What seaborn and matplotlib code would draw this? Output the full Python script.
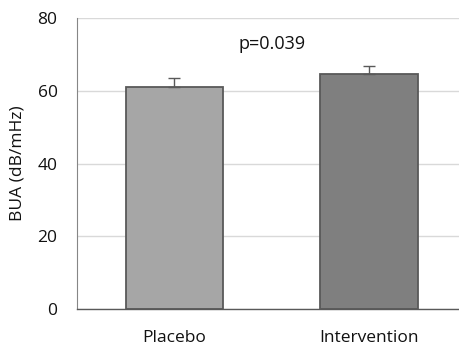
import matplotlib
matplotlib.use("Agg")
import matplotlib.pyplot as plt
import seaborn as sns
import pandas as pd

groups = ["Placebo", "Intervention"]
means = [61.1, 64.5]
se_upper = [2.3, 2.3]
bar_colors = ["#A6A6A6", "#7F7F7F"]
yticks = [0, 20, 40, 60, 80]
p_text = "p=0.039"

sns.set_theme(style="white")
plt.rcParams['font.family'] = ['Open Sans', 'DejaVu Sans']

df = pd.DataFrame({"group": groups, "BUA": means})

fig = plt.figure(figsize=(4.6, 3.48), dpi=100)
ax = fig.add_axes([77/460, 1 - 309/348, 389.5/460, 291/348])

sns.barplot(data=df, x="group", y="BUA", hue="group", palette=bar_colors,
            width=0.5, edgecolor="#595959", linewidth=1.3, legend=False,
            errorbar=None, ax=ax, zorder=2)
for p in ax.patches:
    p.set_alpha(1)

ax.errorbar(range(len(groups)), means, yerr=[[0]*len(groups), se_upper],
            fmt="none", ecolor="#595959", elinewidth=1.0, capsize=4.5,
            capthick=1.0, zorder=3)

ax.set_xlim(-0.5, 1.5)
ax.set_ylim(0, 80)
ax.set_yticks(yticks)
ax.yaxis.grid(True, color="#D9D9D9", linewidth=1.0, zorder=0)
ax.set_axisbelow(True)
for s in ["top", "right"]:
    ax.spines[s].set_visible(False)
ax.spines["left"].set_color("#868686")
ax.spines["bottom"].set_color("#595959")
ax.spines["left"].set_linewidth(0.8)
ax.spines["bottom"].set_linewidth(1.0)
ax.tick_params(axis="both", length=0, labelsize=12.5, colors="#111111")
ax.tick_params(axis="y", pad=14)
ax.tick_params(axis="x", pad=15)
ax.set_xlabel("")
ax.set_ylabel("BUA (dB/mHz)", fontsize=12.5, color="#111111", labelpad=9)
ax.text(0.5, 72.8, p_text, ha="center", va="center", fontsize=13, color="#111111")

fig.savefig("out.png", dpi=100)
